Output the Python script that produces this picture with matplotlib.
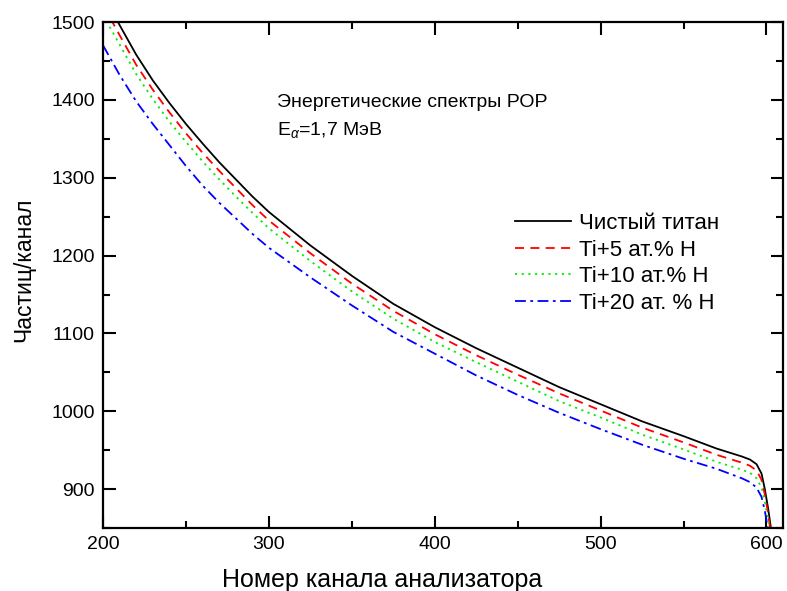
import numpy as np
import matplotlib.pyplot as plt
from matplotlib.ticker import MultipleLocator

plt.rcParams['font.family'] = ['Liberation Sans', 'DejaVu Sans']
plt.rcParams['mathtext.fontset'] = 'custom'
plt.rcParams['mathtext.rm'] = 'Liberation Sans'
plt.rcParams['mathtext.it'] = 'Liberation Sans:italic'

# channel numbers and counts
channel = [200, 210, 220, 230, 240, 250, 260, 270, 280, 290, 300, 325, 350,
           375, 400, 425, 450, 475, 500, 525, 550, 570, 585, 590, 594, 597,
           599, 601, 603]
ti_pure = [1535, 1496, 1458, 1425, 1396, 1369, 1344, 1320, 1298, 1276, 1256,
           1213, 1174, 1138, 1108, 1081, 1056, 1031, 1009, 987, 968, 952, 942,
           938, 932, 920, 900, 875, 845]
ti_h5 = [1522, 1483, 1445, 1413, 1384, 1357, 1332, 1309, 1287, 1265, 1245,
         1203, 1164, 1129, 1099, 1072, 1047, 1023, 1001, 979, 960, 944, 934,
         930, 924, 912, 893, 868, 838]
ti_h10 = [1509, 1471, 1433, 1401, 1372, 1346, 1321, 1298, 1276, 1255, 1235,
          1193, 1154, 1119, 1089, 1063, 1038, 1013, 992, 970, 951, 935, 925,
          921, 914, 902, 884, 860, 830]
ti_h20 = [1470, 1432, 1398, 1369, 1342, 1315, 1290, 1268, 1248, 1228, 1210,
          1172, 1136, 1102, 1074, 1046, 1021, 998, 977, 957, 939, 926, 914,
          909, 902, 890, 872, 848, 815]

labels = ['Чистый титан', 'Ti+5 ат.% H', 'Ti+10 ат.% H', 'Ti+20 ат. % H']

fig = plt.figure(figsize=(7.87, 5.91), dpi=100)
ax = fig.add_axes([0.131, 0.1066, 0.864, 0.856])

ax.plot(channel, ti_pure, color='black', lw=1.3, label=labels[0])
ax.plot(channel, ti_h5, color='#ff0000', lw=1.3, ls=(0, (5, 3.5)), label=labels[1])
ax.plot(channel, ti_h10, color='#00ee00', lw=1.3, ls=(0, (1.2, 2.5)), label=labels[2])
ax.plot(channel, ti_h20, color='#0000ff', lw=1.3, ls=(0, (6, 2.5, 1.5, 2.5)), label=labels[3])

ax.set_xlim(200, 610)
ax.set_ylim(850, 1500)
ax.xaxis.set_major_locator(MultipleLocator(100))
ax.xaxis.set_minor_locator(MultipleLocator(50))
ax.yaxis.set_major_locator(MultipleLocator(100))
ax.yaxis.set_minor_locator(MultipleLocator(50))
ax.tick_params(which='both', direction='in', top=True, right=True, width=1.5)
ax.tick_params(which='major', length=9, labelsize=14, pad=6)
ax.tick_params(which='minor', length=5)
for s in ax.spines.values():
    s.set_linewidth(1.6)

ax.set_xlabel('Номер канала анализатора', fontsize=18)
ax.xaxis.set_label_coords(0.41, -0.08)
ax.set_ylabel('Частиц/канал', fontsize=16.5)
ax.yaxis.set_label_coords(-0.1, 0.51)

ax.text(305, 1397, 'Энергетические спектры РОР', fontsize=14, va='center')
ax.text(305, 1362, r'E$_{\alpha}$=1,7 МэВ', fontsize=14, va='center')

ax.legend(loc='upper left', bbox_to_anchor=(0.593, 0.64), frameon=False,
          fontsize=16, handlelength=2.5, handletextpad=0.36, labelspacing=0.25,
          borderaxespad=0)

fig.savefig('out.png', dpi=100)
